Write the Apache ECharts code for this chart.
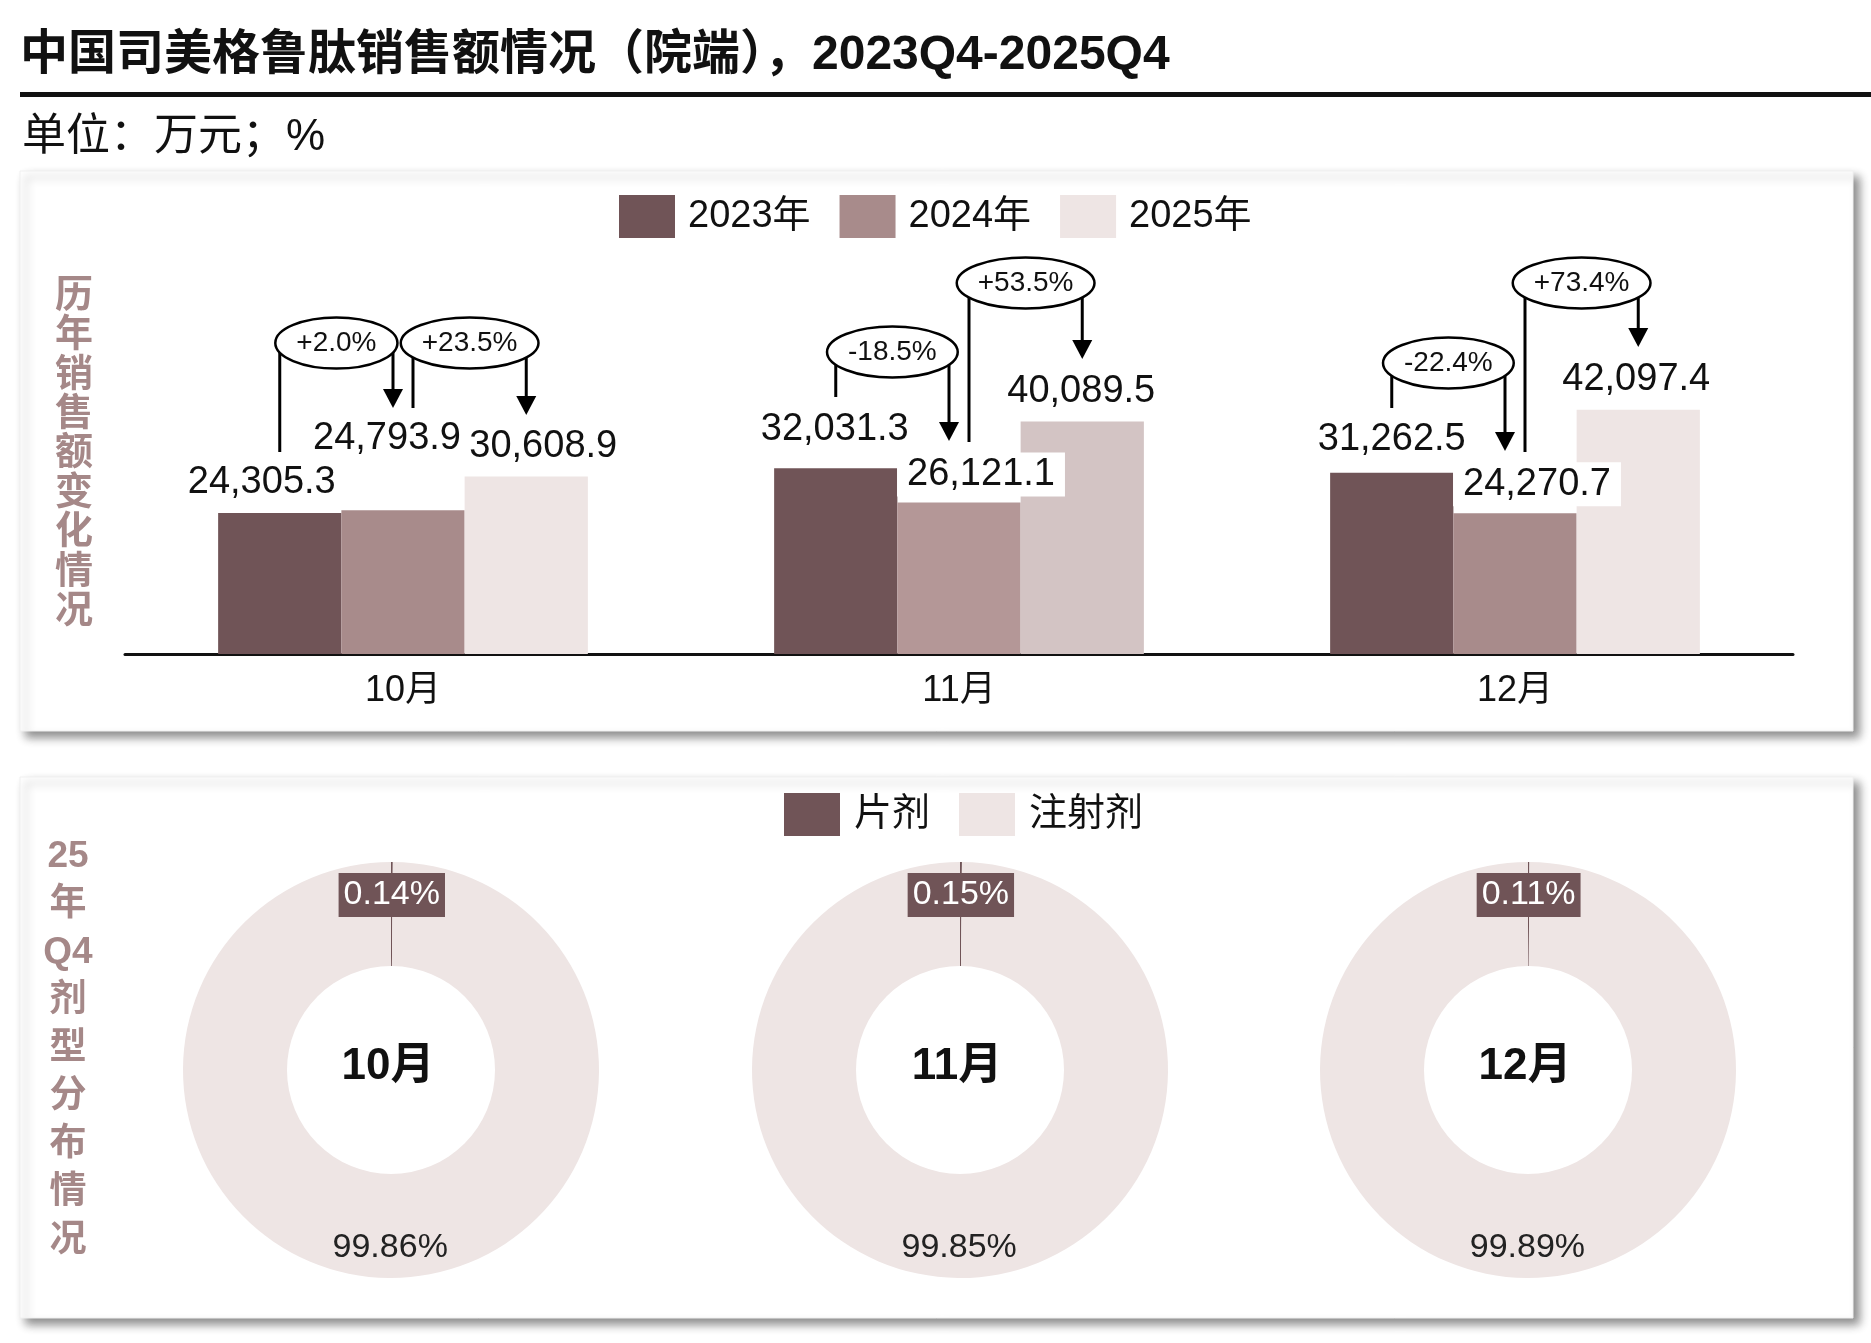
<!DOCTYPE html>
<html>
<head>
<meta charset="utf-8">
<script src="https://cdn.jsdelivr.net/npm/echarts@6/dist/echarts.min.js"></script>
<style>
  html, body { margin: 0; padding: 0; background: #fff; }
  #chart { width: 1871px; height: 1343px; }
</style>
</head>
<body>
<div id="chart"></div>
<script>
// 数据
const months = ['10月', '11月', '12月'];
const years = ['2023年', '2024年', '2025年'];
const sales2023 = [24305.3, 32031.3, 31262.5];
const sales2024 = [24793.9, 26121.1, 24270.7];
const sales2025 = [30608.9, 40089.5, 42097.4];
const yoy2024 = ['+2.0%', '-18.5%', '-22.4%'];
const yoy2025 = ['+23.5%', '+53.5%', '+73.4%'];
const forms = ['片剂', '注射剂'];
const tabletShare = [0.14, 0.15, 0.11];
const injectionShare = [99.86, 99.85, 99.89];

// 样式
const FONT = '"Liberation Sans", "Noto Sans CJK SC", sans-serif';
const colors = ['#705457', '#A88B8B', '#EEE5E4'];
const colorsNov = ['#705457', '#B49797', '#D3C4C4'];
const nameColor = '#A58888';
const pieCenters = [391, 960, 1528];
const pieY = 1070;

// 数值标签的位移 [dx, dy]，按系列、月份
const labelShift = [
  [[-18, 0], [-1, -8], [0, -2]],
  [[-16, -41], [22, 6], [22, 5]],
  [[17, 1], [-1, 1], [-2, 1]]
];
const boxedLabel = [[false, false, false], [false, true, true], [false, false, false]];

// 同比标注的纵向位置（椭圆中心、竖线底端、箭头尖端）
const bracketLayout = [
  [{ ring: 343, stem: 452, tip: 408 }, { ring: 343, stem: 408, tip: 415 }],
  [{ ring: 352, stem: 397, tip: 441 }, { ring: 283, stem: 442, tip: 359 }],
  [{ ring: 363, stem: 408, tip: 451 }, { ring: 283, stem: 452, tip: 347 }]
];

const chart = echarts.init(document.getElementById('chart'));

const fmt = v => v.toLocaleString('en-US', { minimumFractionDigits: 1, maximumFractionDigits: 1 });

function barSeries(values, s) {
  return {
    name: years[s],
    type: 'bar',
    barGap: '0%',
    barCategoryGap: '33.5%',
    itemStyle: { color: colors[s] },
    emphasis: { disabled: true },
    label: {
      show: true,
      position: 'top',
      distance: 12,
      fontSize: 38,
      fontFamily: FONT,
      color: '#111',
      formatter: p => fmt(p.value)
    },
    data: values.map((v, j) => {
      let lab = { offset: labelShift[s][j] };
      if (boxedLabel[s][j]) {
        lab.backgroundColor = '#fff';
        lab.padding = [3, 10];
      }
      return {
        value: v,
        itemStyle: { color: j === 1 ? colorsNov[s] : colors[s] },
        label: lab
      };
    })
  };
}

function pieData(j) {
  return [
    { name: forms[0], value: tabletShare[j], itemStyle: { color: colors[0] } },
    { name: forms[1], value: injectionShare[j], itemStyle: { color: colors[2] } }
  ];
}

let series = [
  barSeries(sales2023, 0),
  barSeries(sales2024, 1),
  barSeries(sales2025, 2)
];

months.forEach((m, j) => {
  // 环形图本体
  series.push({
    type: 'pie',
    center: [pieCenters[j], pieY],
    radius: [104, 208],
    startAngle: 90,
    silent: true,
    label: { show: false },
    labelLine: { show: false },
    data: pieData(j)
  });
  // 只用来放百分比标签的透明环
  series.push({
    type: 'pie',
    center: [pieCenters[j], pieY],
    radius: [148, 208],
    startAngle: 90,
    silent: true,
    itemStyle: { color: 'transparent' },
    labelLine: { show: false },
    label: {
      show: true,
      position: 'inside',
      fontSize: 34,
      fontFamily: FONT,
      formatter: p => p.value.toFixed(2) + '%'
    },
    data: pieData(j).map((d, k) => ({
      name: d.name,
      value: d.value,
      itemStyle: { color: 'transparent' },
      label: k === 0
        ? { color: '#fff', backgroundColor: colors[0], padding: [5, 5], offset: [0, 6] }
        : { color: '#222', offset: [0, -3] }
    }))
  });
});

function staticGraphics() {
  let els = [];
  // 两个带阴影的面板
  [[171, 560], [777, 541]].forEach(p => {
    els.push({
      type: 'rect', z: 0,
      shape: { x: 20, y: p[0], width: 1833, height: p[1] },
      style: {
        fill: '#fff', stroke: '#f0f0f0', lineWidth: 1,
        shadowBlur: 9, shadowColor: 'rgba(0,0,0,0.45)', shadowOffsetX: 6, shadowOffsetY: 6
      }
    });
  });
  els.push({
    type: 'text', z: 5,
    style: {
      text: '中国司美格鲁肽销售额情况（院端），2023Q4-2025Q4',
      x: 20, y: 56, font: 'bold 48px ' + FONT, fill: '#111',
      textAlign: 'left', textVerticalAlign: 'middle'
    }
  });
  els.push({
    type: 'rect', z: 5,
    shape: { x: 20, y: 92, width: 1851, height: 5 },
    style: { fill: '#111' }
  });
  els.push({
    type: 'text', z: 5,
    style: {
      text: '单位：万元；%',
      x: 22, y: 138, font: '44px ' + FONT, fill: '#111',
      textAlign: 'left', textVerticalAlign: 'middle'
    }
  });
  els.push({
    type: 'text', z: 5,
    style: {
      text: '历年销售额变化情况'.split('').join('\n'),
      x: 74, y: 450, font: 'bold 38px "Noto Sans CJK SC"', lineHeight: 39.4,
      fill: nameColor, textAlign: 'center', textVerticalAlign: 'middle'
    }
  });
  els.push({
    type: 'text', z: 5,
    style: {
      text: ['25', '年', 'Q4', '剂', '型', '分', '布', '情', '况'].join('\n'),
      x: 68, y: 1049, font: 'bold 37px ' + FONT, lineHeight: 48,
      fill: nameColor, textAlign: 'center', textVerticalAlign: 'middle'
    }
  });
  months.forEach((m, j) => {
    els.push({
      type: 'text', z: 5,
      style: {
        text: m, x: pieCenters[j] - 3, y: 1067, font: 'bold 44px ' + FONT, fill: '#111',
        textAlign: 'center', textVerticalAlign: 'middle'
      }
    });
  });
  return els;
}

chart.setOption({
  backgroundColor: '#fff',
  animation: false,
  legend: [
    {
      data: years,
      left: 619, top: 195, padding: 0,
      itemWidth: 56, itemHeight: 43, itemGap: 29,
      icon: 'rect',
      selectedMode: false,
      textStyle: { fontSize: 38, fontFamily: FONT, color: '#111', padding: [6, 0, 0, 8] }
    },
    {
      data: [
        { name: forms[0], itemStyle: { color: colors[0] } },
        { name: forms[1], itemStyle: { color: colors[2] } }
      ],
      left: 784, top: 793, padding: 0,
      itemWidth: 56, itemHeight: 43, itemGap: 29,
      icon: 'rect',
      selectedMode: false,
      textStyle: { fontSize: 38, fontFamily: FONT, color: '#111', padding: [6, 0, 0, 9] }
    }
  ],
  grid: { left: 125, right: 78, top: 306, bottom: 689 },
  xAxis: {
    type: 'category',
    data: months,
    axisLine: { lineStyle: { color: '#111', width: 3 } },
    axisTick: { show: false },
    axisLabel: { fontSize: 36, fontFamily: FONT, color: '#111', margin: 19 }
  },
  yAxis: { type: 'value', min: 0, max: 60000, show: false, splitLine: { show: false } },
  graphic: { elements: staticGraphics() },
  series: series
});

// 同比标注：位置取自柱子的布局
function barCenter(s, j) {
  try {
    const l = chart.getModel().getSeriesByIndex(s).getData().getItemLayout(j);
    return l.x + l.width / 2;
  } catch (e) {
    const c0 = chart.convertToPixel({ xAxisIndex: 0 }, months[0]);
    const c1 = chart.convertToPixel({ xAxisIndex: 0 }, months[1]);
    const bw = (c1 - c0) * (1 - 0.335) / 3;
    return chart.convertToPixel({ xAxisIndex: 0 }, months[j]) + (s - 1) * bw;
  }
}

const measure = document.createElement('canvas').getContext('2d');
measure.font = '28px "Liberation Sans"';

let brackets = [];
months.forEach((m, j) => {
  const pairs = [
    { x0: barCenter(0, j), x1: barCenter(1, j) - 10, text: yoy2024[j], pos: bracketLayout[j][0] },
    { x0: barCenter(1, j) + 10, x1: barCenter(2, j), text: yoy2025[j], pos: bracketLayout[j][1] }
  ];
  pairs.forEach(b => {
    const cx = (b.x0 + b.x1) / 2;
    const w = measure.measureText(b.text).width;
    brackets.push({
      type: 'line', z: 20,
      shape: { x1: b.x0, y1: b.pos.ring, x2: b.x0, y2: b.pos.stem },
      style: { stroke: '#000', lineWidth: 3 }
    });
    brackets.push({
      type: 'line', z: 20,
      shape: { x1: b.x1, y1: b.pos.ring, x2: b.x1, y2: b.pos.tip - 17 },
      style: { stroke: '#000', lineWidth: 3 }
    });
    brackets.push({
      type: 'polygon', z: 20,
      shape: { points: [[b.x1 - 10, b.pos.tip - 19], [b.x1 + 10, b.pos.tip - 19], [b.x1, b.pos.tip]] },
      style: { fill: '#000' }
    });
    brackets.push({
      type: 'ellipse', z: 21,
      shape: { cx: cx, cy: b.pos.ring, rx: w / 2 + 21, ry: 25.5 },
      style: { fill: '#fff', stroke: '#000', lineWidth: 2.5 }
    });
    brackets.push({
      type: 'text', z: 22,
      style: {
        text: b.text, x: cx, y: b.pos.ring, font: '28px "Liberation Sans"', fill: '#111',
        textAlign: 'center', textVerticalAlign: 'middle'
      }
    });
  });
});

chart.setOption({ graphic: { elements: staticGraphics().concat(brackets) } });
</script>
</body>
</html>
